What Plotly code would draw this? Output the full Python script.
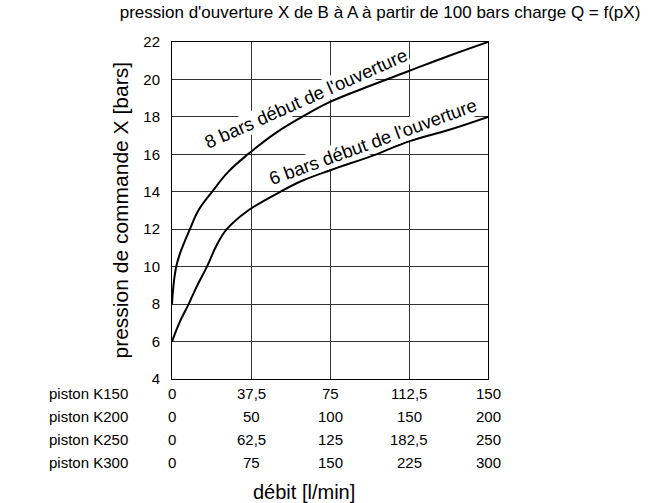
import plotly.graph_objects as go

# ---- data (flow on the K150 scale, pressure in bars) ----
grid_flow = [0, 37.5, 75, 112.5, 150]
piston_names = ["piston K150", "piston K200", "piston K250", "piston K300"]
piston_ticks = [
    ["0", "37,5", "75", "112,5", "150"],
    ["0", "50", "100", "150", "200"],
    ["0", "62,5", "125", "182,5", "250"],
    ["0", "75", "150", "225", "300"],
]

flow_8bar = [0, 0.3, 1.0, 2.0, 3.5, 4.8, 8.5, 12.5, 19, 27, 36, 50, 62.5, 75, 93.75, 112.5, 131.25, 150]
press_8bar = [8, 8.5, 9.3, 10.0, 10.6, 11.0, 12.0, 13.0, 14.0, 15.1, 16.0, 17.2, 18.05, 18.8, 19.65, 20.45, 21.25, 22.0]

flow_6bar = [0, 3.5, 7.9, 12, 16.6, 21, 26, 35.5, 51.4, 62, 75, 97, 112.5, 131.25, 150]
press_6bar = [6.0, 7.0, 8.0, 9.0, 10.0, 11.1, 12.0, 12.95, 14.0, 14.6, 15.15, 16.0, 16.7, 17.3, 18.0]

label_8bar = "8 bars début de l'ouverture"
label_6bar = "6 bars début de l'ouverture"

FONT = "Liberation Sans, Arial, sans-serif"
GRID = "#333333"

fig = go.Figure()
fig.add_trace(go.Scatter(x=flow_8bar, y=press_8bar, mode="lines",
                         line=dict(color="black", width=2, shape="spline", smoothing=1.1),
                         hoverinfo="skip", showlegend=False))
fig.add_trace(go.Scatter(x=flow_6bar, y=press_6bar, mode="lines",
                         line=dict(color="black", width=2, shape="spline", smoothing=1.1),
                         hoverinfo="skip", showlegend=False))

annotations = []
# curve labels
annotations.append(dict(text=label_8bar, x=63.5, y=19.0, xref="x", yref="y",
                        textangle=-24, showarrow=False, bgcolor="white", borderpad=0,
                        font=dict(family=FONT, size=18.5, color="black")))
annotations.append(dict(text=label_6bar, x=95.6, y=16.7, xref="x", yref="y",
                        textangle=-20, showarrow=False, bgcolor="white", borderpad=0,
                        font=dict(family=FONT, size=18.5, color="black")))

shapes = []
for i, (name, ticks) in enumerate(zip(piston_names, piston_ticks)):
    shift = -(14 + 23 * i)
    annotations.append(dict(text=name, x=0, y=0, xref="paper", yref="paper",
                            xanchor="right", yanchor="middle", xshift=-42, yshift=shift,
                            showarrow=False, font=dict(family=FONT, size=15, color="black")))
    shapes.append(dict(type="line", xref="x", yref="paper", xsizemode="pixel", ysizemode="pixel",
                       xanchor=0, yanchor=0, x0=-38, x1=-15, y0=shift, y1=shift,
                       line=dict(color="#444444", width=1)))
    for fv, t in zip(grid_flow, ticks):
        annotations.append(dict(text=t, x=fv, y=0, xref="x", yref="paper",
                                xanchor="center", yanchor="middle", yshift=shift,
                                showarrow=False, font=dict(family=FONT, size=15, color="black")))

# axis titles
annotations.append(dict(text="pression de commande X [bars]", x=0, y=0.5, xref="paper", yref="paper",
                        xanchor="center", yanchor="middle", xshift=-52, textangle=-90,
                        showarrow=False, font=dict(family=FONT, size=21, color="black")))
annotations.append(dict(text="débit [l/min]", x=0.418, y=0, xref="paper", yref="paper",
                        xanchor="center", yanchor="middle", yshift=-113,
                        showarrow=False, font=dict(family=FONT, size=20, color="black")))

fig.update_layout(
    width=664, height=503,
    margin=dict(l=172, r=176, t=42, b=124),
    paper_bgcolor="white", plot_bgcolor="white",
    title=dict(text="pression d'ouverture X de B à A à partir de 100 bars charge Q = f(pX)",
               x=380 / 664, xanchor="center", xref="container",
               y=1 - 12 / 503, yanchor="middle", yref="container",
               font=dict(family=FONT, size=17, color="black")),
    annotations=annotations,
    shapes=shapes,
)
fig.update_xaxes(range=[0, 150], tickvals=grid_flow, showticklabels=False,
                 showgrid=True, gridcolor=GRID, gridwidth=1, zeroline=False,
                 showline=True, linecolor="black", linewidth=1, mirror=True, ticks="")
fig.update_yaxes(range=[4, 22], dtick=2, tick0=4, showgrid=True, gridcolor=GRID, gridwidth=1,
                 zeroline=False, showline=True, linecolor="black", linewidth=1, mirror=True,
                 ticks="", ticklabelstandoff=8,
                 tickfont=dict(family=FONT, size=15, color="black"))

fig.write_html("out.html", config={"displayModeBar": False},
               post_script="document.body.style.margin='0';")
